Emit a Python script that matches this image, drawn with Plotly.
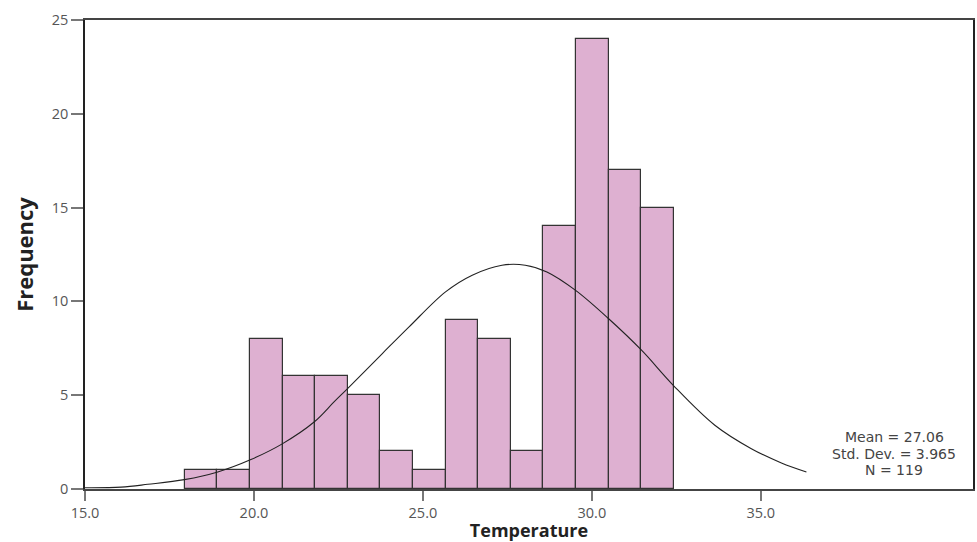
import plotly.graph_objects as go

# Histogram data
bin_start = 17.95
bin_width = 0.965
counts = [1, 1, 8, 6, 6, 5, 2, 1, 9, 8, 2, 14, 24, 17, 15]

# Normal curve
curve_x = [15.0, 16.07, 16.86, 17.94, 18.93, 19.91, 20.85, 21.78, 22.37, 22.77, 23.8,
           24.59, 25.67, 26.46, 27.34, 28.03, 28.67, 29.51, 30.49, 31.47, 32.41,
           33.64, 34.72, 35.61, 36.35]
curve_y = [0.07, 0.1, 0.25, 0.5, 0.91, 1.57, 2.42, 3.57, 4.64, 5.35, 7.22,
           8.64, 10.51, 11.4, 11.93, 11.93, 11.57, 10.6, 9.09, 7.4, 5.53,
           3.4, 2.15, 1.39, 0.91]

x_ticks = [15, 20, 25, 30, 35]
x_tick_labels = ["15.0", "20.0", "25.0", "30.0", "35.0"]
y_ticks = [0, 5, 10, 15, 20, 25]

stats_lines = ["Mean = 27.06", "Std. Dev. = 3.965", "N = 119"]

centers = [bin_start + bin_width * (i + 0.5) for i in range(len(counts))]

FONT = "Open Sans"
plot_l, plot_r, plot_t, plot_b = 85, 975, 20, 489

fig = go.Figure()
fig.add_trace(go.Bar(
    x=centers, y=counts, width=[bin_width] * len(counts),
    marker=dict(color="#DEB0D1", line=dict(color="#333333", width=1.2)),
    hoverinfo="x+y", showlegend=False,
))
fig.add_trace(go.Scatter(
    x=curve_x, y=curve_y, mode="lines",
    line=dict(color="#222222", width=1.1, shape="spline"),
    showlegend=False, hoverinfo="skip",
))

for i, line in enumerate(stats_lines):
    py = 437 + 16.5 * i
    fig.add_annotation(
        x=(896 - plot_l) / (plot_r - plot_l), y=(plot_b - py) / (plot_b - plot_t),
        xref="paper", yref="paper", text=line, showarrow=False,
        xanchor="center", yanchor="middle",
        font=dict(family="DejaVu Sans", size=14, color="#444444"),
    )

fig.update_layout(
    width=977, height=542,
    margin=dict(l=plot_l, r=977 - plot_r, t=plot_t, b=542 - plot_b, pad=0),
    plot_bgcolor="white", paper_bgcolor="white",
    bargap=0,
    font=dict(family=FONT, color="#555555"),
    xaxis=dict(
        range=[15, 41.28], tickvals=x_ticks, ticktext=x_tick_labels,
        ticks="outside", ticklen=10, tickcolor="#777777", tickwidth=1.5,
        showgrid=False, zeroline=False,
        showline=True, linecolor="#444444", linewidth=1.5, mirror=True,
        tickfont=dict(family=FONT, size=14.5, color="#555555"),
        title=dict(text="<b>Temperature</b>", standoff=2,
                   font=dict(family=FONT, size=18, color="#222222")),
    ),
    yaxis=dict(
        range=[0, 25], tickvals=y_ticks,
        ticks="outside", ticklen=12, tickcolor="#777777", tickwidth=1.5,
        showgrid=False, zeroline=False,
        showline=True, linecolor="#222222", linewidth=1.5, mirror=True,
        tickfont=dict(family=FONT, size=14.5, color="#555555"),
        title=dict(text="<b>Frequency</b>", standoff=12,
                   font=dict(family=FONT, size=22, color="#222222")),
    ),
)

fig.write_html("out.html")
